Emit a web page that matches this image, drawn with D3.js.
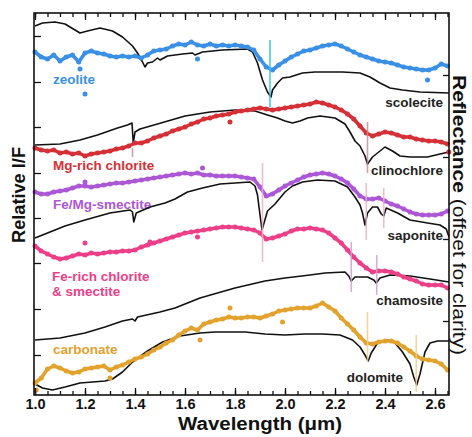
<!DOCTYPE html>
<html>
<head>
<meta charset="utf-8">
<title>CRISM spectra vs lab spectra</title>
<script src="https://d3js.org/d3.v7.min.js"></script>
<style>
body { margin:0; background:#fff; }
svg { display:block; font-family: Arial, "Liberation Sans", Helvetica, sans-serif; }
</style>
</head>
<body>
<svg id="chart" width="472" height="437"></svg>
<script>
// wavelength grid of the dotted (observed) spectra, µm
var wl = [1.000,1.025,1.050,1.075,1.100,1.125,1.150,1.175,1.200,1.225,1.250,1.275,1.300,1.325,1.350,1.375,1.400,1.425,1.450,1.475,
  1.500,1.525,1.550,1.575,1.600,1.625,1.650,1.675,1.700,1.725,1.750,1.775,1.800,1.825,1.850,1.875,1.900,1.925,1.950,1.975,
  2.000,2.025,2.050,2.075,2.100,2.125,2.150,2.175,2.200,2.225,2.250,2.275,2.300,2.325,2.350,2.375,2.400,2.425,2.450,2.475,
  2.500,2.525,2.550,2.575,2.600,2.625,2.650];

// observed relative I/F (offset)
var zeolite = [3.43,3.38,3.36,3.40,3.34,3.38,3.40,3.33,3.42,3.44, 3.42,3.41,3.39,3.38,3.39,3.38,3.39,3.37,3.40,3.44,
  3.45,3.46,3.49,3.51,3.50,3.53,3.50,3.49,3.51,3.49, 3.50,3.49,3.50,3.49,3.48,3.45,3.36,3.28,3.25,3.30,
  3.34,3.38,3.41,3.44,3.45,3.47,3.49,3.50,3.51,3.49, 3.46,3.43,3.40,3.38,3.36,3.34,3.33,3.32,3.30,3.28,
  3.27,3.26,3.25,3.25,3.27,3.31,3.29];
var mgChlorite = [2.47,2.45,2.44,2.45,2.42,2.43,2.41,2.42,2.39,2.41, 2.42,2.43,2.44,2.46,2.47,2.49,2.52,2.52,2.54,2.57,
  2.59,2.61,2.64,2.66,2.68,2.71,2.73,2.76,2.77,2.79, 2.80,2.81,2.83,2.84,2.85,2.86,2.87,2.86,2.85,2.86,
  2.87,2.88,2.89,2.90,2.91,2.93,2.92,2.90,2.88,2.85, 2.81,2.76,2.69,2.62,2.59,2.61,2.63,2.62,2.60,2.58,
  2.58,2.56,2.55,2.54,2.54,2.53,2.51];
var feMgSmectite = [2.03,2.01,2.01,2.03,2.04,2.05,2.07,2.09,2.09,2.08, 2.09,2.10,2.11,2.12,2.12,2.13,2.14,2.15,2.16,2.17,
  2.18,2.19,2.20,2.21,2.22,2.21,2.22,2.20,2.20,2.19, 2.19,2.19,2.19,2.18,2.17,2.16,2.08,1.99,2.01,2.05,
  2.09,2.12,2.15,2.18,2.20,2.21,2.22,2.21,2.19,2.16, 2.12,2.06,1.99,1.96,1.96,1.97,1.94,1.91,1.89,1.86,
  1.83,1.81,1.80,1.80,1.80,1.81,1.84];
var feChlorite = [1.49,1.44,1.41,1.38,1.36,1.37,1.39,1.41,1.40,1.42, 1.41,1.42,1.43,1.43,1.44,1.44,1.45,1.48,1.50,1.52,
  1.54,1.56,1.58,1.60,1.62,1.63,1.64,1.65,1.66,1.67, 1.68,1.68,1.68,1.67,1.66,1.65,1.62,1.56,1.57,1.59,
  1.61,1.64,1.66,1.66,1.67,1.66,1.65,1.62,1.57,1.52, 1.45,1.38,1.32,1.27,1.23,1.24,1.24,1.23,1.21,1.18,
  1.16,1.14,1.11,1.10,1.10,1.10,1.07];
var carbonate = [0.12,0.17,0.26,0.29,0.27,0.24,0.22,0.23,0.26,0.27, 0.28,0.29,0.25,0.28,0.30,0.33,0.36,0.38,0.41,0.45,
  0.48,0.52,0.55,0.60,0.64,0.67,0.65,0.71,0.73,0.75, 0.76,0.78,0.77,0.77,0.78,0.78,0.77,0.79,0.81,0.84,
  0.85,0.86,0.87,0.87,0.87,0.89,0.92,0.88,0.84,0.77, 0.71,0.65,0.58,0.52,0.51,0.53,0.54,0.54,0.52,0.48,
  0.44,0.39,0.36,0.35,0.34,0.31,0.25];

// stray single points [µm, I/F]
var zeoliteOut = [[1.18,3.26],[1.20,3.01],[1.65,3.36],[2.57,3.15]];
var mgChloriteOut = [[1.78,2.73],[2.655,2.43]];
var feMgSmectiteOut = [[1.20,2.13],[1.67,2.27]];
var feChloriteOut = [[1.20,1.52],[1.46,1.53],[1.65,1.58]];
var carbonateOut = [[1.005,0.05],[1.30,0.17],[1.66,0.55],[1.78,0.87],[1.99,0.73]];

// lab reflectance spectra [µm, reflectance offset]
var scolecite = [[1.0,3.69],[1.03,3.72],[1.08,3.73],[1.12,3.71],[1.16,3.65],[1.18,3.62],[1.21,3.64],[1.26,3.67],[1.31,3.64],
  [1.35,3.58],[1.39,3.49],[1.41,3.42],[1.43,3.33],[1.44,3.28],[1.45,3.32],[1.47,3.33],[1.49,3.37],[1.50,3.35],[1.53,3.39],
  [1.59,3.41],[1.63,3.42],[1.64,3.40],[1.67,3.43],[1.75,3.45],[1.85,3.46],[1.87,3.43],[1.89,3.32],[1.91,3.15],[1.93,3.03],
  [1.944,2.98],[1.95,3.05],[1.97,3.12],[1.99,3.17],[2.02,3.18],[2.07,3.22],[2.12,3.23],[2.23,3.23],[2.30,3.22],[2.34,3.18],
  [2.38,3.12],[2.42,3.07],[2.47,3.05],[2.54,3.03],[2.656,3.02]];
var clinochlore = [[1.0,2.50],[1.10,2.51],[1.18,2.55],[1.25,2.60],[1.33,2.67],[1.37,2.70],[1.388,2.72],[1.393,2.52],[1.40,2.63],
  [1.42,2.66],[1.49,2.71],[1.60,2.79],[1.70,2.83],[1.80,2.85],[1.88,2.84],[1.93,2.80],[1.97,2.77],[2.00,2.74],[2.03,2.72],
  [2.06,2.74],[2.09,2.77],[2.14,2.79],[2.20,2.77],[2.24,2.71],[2.26,2.63],[2.28,2.54],[2.30,2.49],[2.32,2.39],[2.33,2.31],
  [2.35,2.38],[2.38,2.44],[2.40,2.48],[2.43,2.44],[2.46,2.39],[2.50,2.38],[2.57,2.38],[2.62,2.41],[2.656,2.43]];
var saponite = [[1.0,1.57],[1.06,1.63],[1.12,1.69],[1.20,1.75],[1.30,1.82],[1.38,1.85],[1.39,1.83],[1.395,1.73],[1.405,1.82],
  [1.46,1.88],[1.52,1.92],[1.56,1.96],[1.61,2.03],[1.67,2.07],[1.74,2.11],[1.80,2.12],[1.86,2.13],[1.88,2.09],[1.89,2.00],
  [1.90,1.80],[1.908,1.65],[1.915,1.71],[1.93,1.84],[1.96,1.91],[2.00,2.03],[2.03,2.09],[2.07,2.13],[2.13,2.15],[2.20,2.14],
  [2.25,2.08],[2.28,1.98],[2.30,1.90],[2.31,1.82],[2.32,1.70],[2.33,1.82],[2.35,1.88],[2.37,1.88],[2.385,1.81],[2.395,1.79],
  [2.405,1.87],[2.45,1.82],[2.50,1.75],[2.57,1.72],[2.62,1.70],[2.645,1.66],[2.656,1.58]];
var chamosite = [[1.0,0.55],[1.10,0.57],[1.20,0.62],[1.28,0.68],[1.35,0.74],[1.39,0.76],[1.40,0.74],[1.41,0.78],[1.50,0.83],
  [1.56,0.87],[1.66,0.97],[1.80,1.07],[1.92,1.14],[2.00,1.17],[2.10,1.20],[2.16,1.22],[2.24,1.23],[2.255,1.19],[2.265,1.14],
  [2.28,1.18],[2.33,1.18],[2.355,1.15],[2.365,1.12],[2.38,1.17],[2.42,1.20],[2.50,1.19],[2.58,1.16],[2.656,1.13]];
var dolomite = [[1.0,0.11],[1.03,0.07],[1.07,0.05],[1.12,0.08],[1.18,0.12],[1.28,0.14],[1.31,0.16],[1.35,0.23],[1.39,0.33],
  [1.45,0.44],[1.51,0.53],[1.58,0.59],[1.66,0.62],[1.72,0.63],[1.84,0.63],[1.92,0.61],[2.00,0.60],[2.08,0.61],[2.15,0.61],
  [2.22,0.60],[2.27,0.55],[2.30,0.48],[2.32,0.40],[2.333,0.34],[2.345,0.42],[2.37,0.52],[2.41,0.55],[2.44,0.52],[2.47,0.43],
  [2.50,0.31],[2.515,0.18],[2.527,0.10],[2.54,0.21],[2.56,0.43],[2.58,0.52],[2.61,0.54],[2.656,0.54]];

// band centres marked with thin lines [µm, top, bottom]
var bandsZeolite = [[1.94,3.55,2.88]];
var bandsClinochlore = [[1.39,2.47,2.38],[2.33,2.73,2.22]];
var bandsSaponite = [[1.91,2.32,1.33],[2.325,2.12,1.55],[2.395,2.07,1.67]];
var bandsChamosite = [[2.265,1.53,1.03],[2.367,1.40,1.00]];
var bandsDolomite = [[2.33,0.83,0.33],[2.525,0.60,0.03]];

// axis ticks
var xMajor = [1.0,1.2,1.4,1.6,1.8,2.0,2.2,2.4,2.6];
var leftTicks = [0.40,0.86,1.32,1.77,2.22,2.68,3.13,3.59];
var rightTicks = [0.74,1.56,2.38,3.20];

var svg = d3.select('#chart');
var L = 34, R = 449, T = 13, B = 395;
var x = d3.scaleLinear().domain([0.996, 2.656]).range([L, R]);
var y = d3.scaleLinear().domain([0, 3.82]).range([B, T]);

var line = d3.line().x(function(d){ return x(d[0]); }).y(function(d){ return y(d[1]); });

// text labels of the spectra
var labels = [
  {t:'zeolite', w:1.072, v:3.11, c:'#3a8fe6', a:'start'},
  {t:'Mg-rich chlorite', w:1.072, v:2.25, c:'#d63037', a:'start'},
  {t:'Fe/Mg-smectite', w:1.072, v:1.86, c:'#ac57d6', a:'start'},
  {t:'Fe-rich chlorite', w:1.068, v:1.14, c:'#ec3f88', a:'start'},
  {t:'& smectite', w:1.068, v:0.99, c:'#ec3f88', a:'start'},
  {t:'carbonate', w:1.072, v:0.41, c:'#e2a22d', a:'start'},
  {t:'scolecite', w:2.632, v:2.88, c:'#222', a:'end'},
  {t:'clinochlore', w:2.632, v:2.20, c:'#222', a:'end'},
  {t:'saponite', w:2.632, v:1.55, c:'#222', a:'end'},
  {t:'chamosite', w:2.632, v:0.90, c:'#222', a:'end'},
  {t:'dolomite', w:2.472, v:0.13, c:'#222', a:'end'}
];
svg.append('g').selectAll('text').data(labels).enter().append('text')
  .attr('x', function(d){ return x(d.w); })
  .attr('y', function(d){ return y(d.v); })
  .attr('text-anchor', function(d){ return d.a; })
  .attr('fill', function(d){ return d.c; })
  .style('font-size', '13.5px').style('font-weight', 'bold')
  .text(function(d){ return d.t; });

// lab spectra (black)
[scolecite, clinochlore, saponite, chamosite, dolomite].forEach(function(s){
  svg.append('path').datum(s).attr('d', line)
    .attr('fill', 'none').attr('stroke', '#111').attr('stroke-width', 1.6)
    .attr('stroke-linejoin', 'round');
});

// observed spectra (dots)
var obs = [
  {v:zeolite, out:zeoliteOut, c:'#3a8fe6'},
  {v:mgChlorite, out:mgChloriteOut, c:'#d63037'},
  {v:feMgSmectite, out:feMgSmectiteOut, c:'#ac57d6'},
  {v:feChlorite, out:feChloriteOut, c:'#ec3f88'},
  {v:carbonate, out:carbonateOut, c:'#e2a22d'}
];
obs.forEach(function(o){
  var pts = wl.map(function(w, i){ return [w, o.v[i]]; });
  svg.append('path').datum(pts).attr('d', line)
    .attr('fill', 'none').attr('stroke', o.c).attr('stroke-width', 3.6)
    .attr('stroke-linejoin', 'round');
  svg.append('g').selectAll('circle').data(pts.concat(o.out)).enter().append('circle')
    .attr('cx', function(d){ return x(d[0]); })
    .attr('cy', function(d){ return y(d[1]); })
    .attr('r', 2.5).attr('fill', o.c);
});

// band markers
[[bandsZeolite,'#38c4ec',0.9],[bandsClinochlore,'#c98595',0.8],[bandsSaponite,'#eab2cb',0.85],
 [bandsChamosite,'#cfa0d6',0.85],[bandsDolomite,'#f4cc8c',0.85]].forEach(function(b){
  svg.append('g').selectAll('line').data(b[0]).enter().append('line')
    .attr('x1', function(d){ return x(d[0]); }).attr('x2', function(d){ return x(d[0]); })
    .attr('y1', function(d){ return y(d[1]); }).attr('y2', function(d){ return y(d[2]); })
    .attr('stroke', b[1]).attr('stroke-width', 1.6).attr('opacity', b[2]);
});

// axes, ticks pointing inward
var xMinor = d3.range(1.0, 2.651, 0.05);
function clean(g){
  g.select('.domain').remove();
  g.selectAll('line').attr('stroke', '#111').attr('stroke-width', 1.3);
  g.selectAll('text').filter(function(){ return !this.textContent; }).remove();
}
svg.append('g').attr('transform', 'translate(0,' + B + ')')
  .call(d3.axisBottom(x).tickValues(xMinor).tickSize(-4).tickFormat('')).call(clean);
svg.append('g').attr('transform', 'translate(0,' + B + ')')
  .call(d3.axisBottom(x).tickValues(xMajor).tickSize(-7).tickPadding(4).tickFormat(d3.format('.1f')))
  .call(clean)
  .selectAll('text').attr('fill', '#111').style('font-size', '14.5px').style('font-weight', 'bold')
  .style('font-family', 'Arial, "Liberation Sans", sans-serif');
svg.append('g').attr('transform', 'translate(0,' + T + ')')
  .call(d3.axisTop(x).tickValues(xMinor).tickSize(-4).tickFormat('')).call(clean);
svg.append('g').attr('transform', 'translate(0,' + T + ')')
  .call(d3.axisTop(x).tickValues(xMajor).tickSize(-7).tickFormat('')).call(clean);
svg.append('g').attr('transform', 'translate(' + L + ',0)')
  .call(d3.axisLeft(y).tickValues(leftTicks).tickSize(-7).tickFormat('')).call(clean);
svg.append('g').attr('transform', 'translate(' + R + ',0)')
  .call(d3.axisRight(y).tickValues(rightTicks).tickSize(-6).tickFormat('')).call(clean);

svg.append('rect').attr('x', L).attr('y', T).attr('width', R - L).attr('height', B - T)
  .attr('fill', 'none').attr('stroke', '#111').attr('stroke-width', 1.6);

// axis titles
svg.append('text').attr('x', 260).attr('y', 430).attr('text-anchor', 'middle')
  .attr('fill', '#111').style('font-size', '17.5px').style('font-weight', 'bold')
  .attr('textLength', 164).attr('lengthAdjust', 'spacingAndGlyphs')
  .text('Wavelength (\u03bcm)');
svg.append('text').attr('transform', 'translate(25,195) rotate(-90)').attr('text-anchor', 'middle')
  .attr('fill', '#111').style('font-size', '18px').style('font-weight', 'bold')
  .attr('textLength', 96).attr('lengthAdjust', 'spacingAndGlyphs')
  .text('Relative I/F');
var rt = svg.append('text').attr('transform', 'translate(453,215) rotate(90)').attr('text-anchor', 'middle')
  .attr('fill', '#111').style('font-size', '17.5px')
  .attr('textLength', 280).attr('lengthAdjust', 'spacingAndGlyphs');
rt.append('tspan').style('font-weight', 'bold').text('Reflectance ');
rt.append('tspan').text('(offset for clarity)');
</script>
</body>
</html>
